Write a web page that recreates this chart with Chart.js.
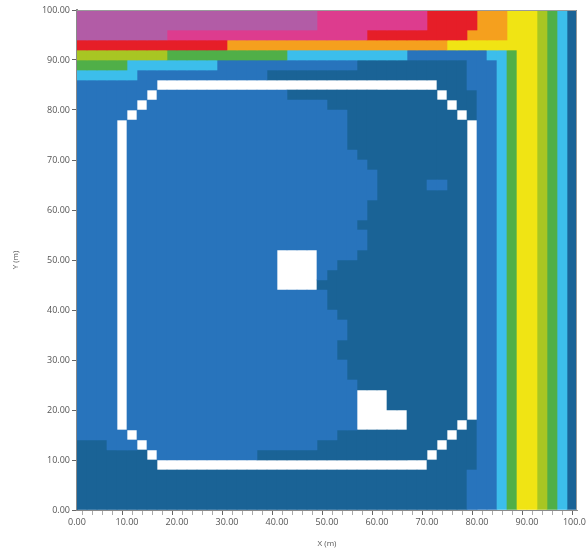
<!DOCTYPE html>
<html>
<head>
<meta charset="utf-8">
<script src="https://cdn.jsdelivr.net/npm/chart.js@4.4.1/dist/chart.umd.min.js"></script>
<style>
  html, body { margin: 0; padding: 0; background: #fff; }
  canvas { display: block; }
</style>
</head>
<body>
<canvas id="gridChart" width="586" height="554"></canvas>
<script>
// model grid: 50 x 50 cells, 2 m each
var cellSize = 2;
var xTickValues = [0, 10, 20, 30, 40, 50, 60, 70, 80, 90, 100];
var yTickValues = [0, 10, 20, 30, 40, 50, 60, 70, 80, 90, 100];

// zone codes used in the rows below
var zoneCodes = ['P', 'K', 'R', 'O', 'Y', 'L', 'G', 'C', 'M', 'D', 'W'];

// east edge bands from x = 84 to 100 (same on every row below the top ones)
var eastBands = ' C1 G1 Y2 L1 G1 C1 D1';

// rows from the top (y = 98..100) down to the bottom (y = 0..2), as runs: code + number of cells
var gridRows = [
  'P24 K11 R5 O3 Y3 L1 G1 C1 D1',
  'P24 K11 R5 O3 Y3 L1 G1 C1 D1',
  'P9 K20 R10 O4 Y3 L1 G1 C1 D1',
  'R15 O22 Y9 L1 G1 C1 D1',
  'L9 G12 C12 M8 C2 G1 Y2 L1 G1 C1 D1',
  'G5 C9 M14 D11 M3' + eastBands,
  'C6 M13 D20 M3' + eastBands,
  'M8 W28 D3 M3' + eastBands,
  'M7 W1 M13 D15 W1 D3 M2' + eastBands,
  'M6 W1 M18 D12 W1 D2 M2' + eastBands,
  'M5 W1 M21 D11 W1 D1 M2' + eastBands,
  'M4 W1 M22 D12 W1 M2' + eastBands,
  'M4 W1 M22 D12 W1 M2' + eastBands,
  'M4 W1 M22 D12 W1 M2' + eastBands,
  'M4 W1 M23 D11 W1 M2' + eastBands,
  'M4 W1 M24 D10 W1 M2' + eastBands,
  'M4 W1 M25 D9 W1 M2' + eastBands,
  'M4 W1 M25 D5 M2 D2 W1 M2' + eastBands,
  'M4 W1 M25 D9 W1 M2' + eastBands,
  'M4 W1 M24 D10 W1 M2' + eastBands,
  'M4 W1 M24 D10 W1 M2' + eastBands,
  'M4 W1 M23 D11 W1 M2' + eastBands,
  'M4 W1 M24 D10 W1 M2' + eastBands,
  'M4 W1 M24 D10 W1 M2' + eastBands,
  'M4 W1 M15 W4 M4 D11 W1 M2' + eastBands,
  'M4 W1 M15 W4 M2 D13 W1 M2' + eastBands,
  'M4 W1 M15 W4 M1 D14 W1 M2' + eastBands,
  'M4 W1 M15 W4 D15 W1 M2' + eastBands,
  'M4 W1 M20 D14 W1 M2' + eastBands,
  'M4 W1 M20 D14 W1 M2' + eastBands,
  'M4 W1 M21 D13 W1 M2' + eastBands,
  'M4 W1 M22 D12 W1 M2' + eastBands,
  'M4 W1 M22 D12 W1 M2' + eastBands,
  'M4 W1 M21 D13 W1 M2' + eastBands,
  'M4 W1 M21 D13 W1 M2' + eastBands,
  'M4 W1 M22 D12 W1 M2' + eastBands,
  'M4 W1 M22 D12 W1 M2' + eastBands,
  'M4 W1 M23 D11 W1 M2' + eastBands,
  'M4 W1 M23 W3 D8 W1 M2' + eastBands,
  'M4 W1 M23 W3 D8 W1 M2' + eastBands,
  'M4 W1 M23 W5 D6 W1 M2' + eastBands,
  'M4 W1 M23 W5 D5 W1 D1 M2' + eastBands,
  'M5 W1 M20 D11 W1 D2 M2' + eastBands,
  'D3 M3 W1 M17 D12 W1 D3 M2' + eastBands,
  'D7 W1 M10 D17 W1 D4 M2' + eastBands,
  'D8 W27 D5 M2' + eastBands,
  'D39 M3' + eastBands,
  'D39 M3' + eastBands,
  'D39 M3' + eastBands,
  'D39 M3' + eastBands
];

var zoneColors = {
  P: '#b25ca6', K: '#dd3c8e', R: '#e61e28', O: '#f5a01e', Y: '#f0e414',
  L: '#a8c623', G: '#50af48', C: '#3cbeeb', M: '#2874bc', D: '#1a6396', W: '#ffffff'
};

const expandRow = (runs) => {
  var cells = [];
  runs.split(' ').forEach((run) => {
    var n = parseInt(run.slice(1), 10);
    for (var i = 0; i < n; i++) cells.push(run[0]);
  });
  if (cells.length !== 50) console.error('row length', cells.length, runs);
  return cells;
};

var grid = gridRows.map(expandRow);
var nRows = grid.length;

// one floating bar per vertical run of equal cells in a column
const buildDatasets = () => {
  var byCode = {};
  zoneCodes.forEach((c) => { byCode[c] = []; });
  for (var col = 0; col < 50; col++) {
    var r = nRows - 1;
    while (r >= 0) {
      var code = grid[r][col];
      var start = r;
      while (r - 1 >= 0 && grid[r - 1][col] === code) r--;
      var y0 = (nRows - 1 - start) * cellSize;
      var y1 = (nRows - r) * cellSize;
      byCode[code].push({ x: col * cellSize + cellSize / 2, y: [y0, y1] });
      r--;
    }
  }
  return zoneCodes.map((c) => ({
    label: c,
    data: byCode[c],
    backgroundColor: zoneColors[c],
    borderWidth: 0,
    grouped: false,
    barPercentage: 1,
    categoryPercentage: 1
  }));
};

var tickFont = { family: "'Open Sans', 'DejaVu Sans', sans-serif", size: 9 };
var titleFont = { family: "'Open Sans', 'DejaVu Sans', sans-serif", size: 8 };

const framePlugin = {
  id: 'frame',
  afterDatasetsDraw(chart) {
    var a = chart.chartArea, ctx = chart.ctx;
    ctx.save();
    ctx.strokeStyle = '#9a9a9a';
    ctx.lineWidth = 1;
    ctx.beginPath();
    ctx.moveTo(a.left, a.top + 0.5);
    ctx.lineTo(a.right - 0.5, a.top + 0.5);
    ctx.lineTo(a.right - 0.5, a.bottom);
    ctx.stroke();
    ctx.restore();
  }
};

const minorTickColor = (c) => {
  if (!c.tick) return '#666';
  return Math.round(c.tick.value) % 10 === 0 ? '#666' : '#aaa';
};

const createChart = () => {
  var ctx = document.getElementById('gridChart');
  new Chart(ctx, {
    type: 'bar',
    data: { datasets: buildDatasets() },
    plugins: [framePlugin],
    options: {
      responsive: false,
      animation: false,
      layout: { padding: { left: 0, top: 10, right: 9, bottom: 0 } },
      plugins: { legend: { display: false }, tooltip: { enabled: false } },
      scales: {
        x: {
          type: 'linear',
          min: xTickValues[0],
          max: xTickValues[xTickValues.length - 1],
          offset: false,
          grid: {
            drawOnChartArea: false,
            tickLength: 5,
            tickColor: minorTickColor
          },
          border: { color: '#8a8a8a', width: 1 },
          ticks: {
            stepSize: cellSize,
            autoSkip: false,
            maxRotation: 0,
            padding: 2,
            color: '#555',
            font: tickFont,
            callback: (v) => (xTickValues.indexOf(Math.round(v)) >= 0 ? Math.round(v).toFixed(2) : '')
          },
          title: { display: true, text: 'X (m)', color: '#555', font: titleFont, padding: { top: 2, bottom: 5 } },
          afterFit: (s) => { s.height = 44; s.paddingLeft = 0; s.paddingRight = 0; }
        },
        y: {
          type: 'linear',
          min: yTickValues[0],
          max: yTickValues[yTickValues.length - 1],
          grid: { drawOnChartArea: false, tickLength: 5, tickColor: '#666' },
          border: { color: '#8a8a8a', width: 2 },
          ticks: {
            stepSize: 10,
            padding: 2,
            color: '#555',
            font: tickFont,
            callback: (v) => Number(v).toFixed(2)
          },
          title: { display: true, text: 'Y (m)', color: '#555', font: titleFont, padding: { top: 11, bottom: 2 } },
          afterFit: (s) => { s.width = 77; s.paddingTop = 0; s.paddingBottom = 0; }
        }
      }
    }
  });
};

createChart();
</script>
</body>
</html>
